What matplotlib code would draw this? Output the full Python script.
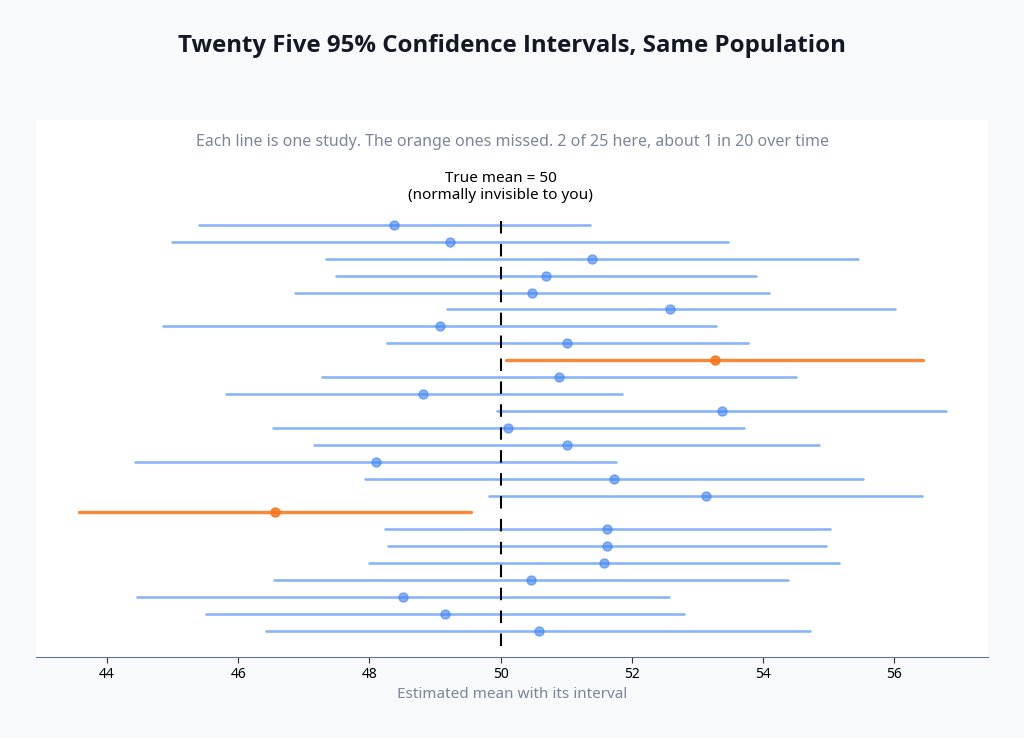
import matplotlib
matplotlib.use("Agg")
import matplotlib.pyplot as plt

# one row per study, top to bottom
lows = [45.40, 44.99, 47.34, 47.49, 46.86, 49.18, 44.85, 48.27, 50.09, 47.28,
        45.81, 49.95, 46.53, 47.16, 44.43, 47.93, 49.82, 43.57, 48.24, 48.28,
        48.00, 46.54, 44.46, 45.51, 46.43]
means = [48.38, 49.23, 51.40, 50.70, 50.48, 52.59, 49.07, 51.02, 53.27, 50.89,
         48.82, 53.37, 50.12, 51.01, 48.10, 51.73, 53.13, 46.56, 51.63, 51.63,
         51.58, 50.46, 48.51, 49.15, 50.58]
highs = [51.36, 53.47, 55.45, 53.90, 54.09, 56.02, 53.28, 53.77, 56.44, 54.50,
         51.85, 56.79, 53.71, 54.85, 51.76, 55.53, 56.43, 49.55, 55.02, 54.96,
         55.16, 54.39, 52.57, 52.80, 54.72]
true_mean = 50
xticks = [44, 46, 48, 50, 52, 54, 56]

plt.rcParams['font.family'] = ['Noto Sans', 'DejaVu Sans']

fig = plt.figure(figsize=(10.24, 7.38), dpi=100, facecolor='#f8f9fb')
ax = fig.add_axes([0.0352, 0.1098, 0.9297, 0.7276])
ax.set_facecolor('white')

blue = '#3b82f6'
orange = '#f97316'
for i in range(len(means)):
    missed = highs[i] < true_mean or lows[i] > true_mean
    if missed:
        ax.plot([lows[i], highs[i]], [i, i], color=orange, lw=2.4, alpha=0.85,
                solid_capstyle='round', zorder=2)
        ax.plot(means[i], i, 'o', color=orange, ms=6.5, alpha=0.85, mec=orange, zorder=3)
    else:
        ax.plot([lows[i], highs[i]], [i, i], color=blue, lw=1.9, alpha=0.6,
                solid_capstyle='round', zorder=2)
        ax.plot(means[i], i, 'o', color=blue, ms=6.5, alpha=0.6, mec=blue, mew=1, zorder=3)

ax.plot([true_mean, true_mean], [-0.25, 25.0], color='black', lw=1.5,
        dashes=(6, 5), zorder=4)
ax.text(true_mean, -2.25, 'True mean = 50\n(normally invisible to you)',
        ha='center', va='center', fontsize=11, color='black', linespacing=1.2)

ax.set_xlim(42.918, 57.433)
ax.set_ylim(25.54, -6.2)
ax.set_xticks(xticks)
ax.set_yticks([])
for s in ['top', 'left', 'right']:
    ax.spines[s].set_visible(False)
ax.spines['bottom'].set_color('#64748b')
ax.tick_params(axis='x', colors='#333333', labelcolor='black', length=4,
               labelsize=10, pad=3)
ax.set_xlabel('Estimated mean with its interval', color='#7c8599',
              fontsize=11, labelpad=4)

fig.text(0.5, 0.938, 'Twenty Five 95% Confidence Intervals, Same Population',
         ha='center', va='center', fontsize=17.3, fontweight='bold', color='#141826',
         family=['Open Sans', 'Lato', 'DejaVu Sans'])
fig.text(0.5, 0.8076, 'Each line is one study. The orange ones missed. 2 of 25 here, about 1 in 20 over time',
         ha='center', va='center', fontsize=11.5, color='#7c8599')

fig.savefig('out.png', dpi=100, facecolor=fig.get_facecolor())
